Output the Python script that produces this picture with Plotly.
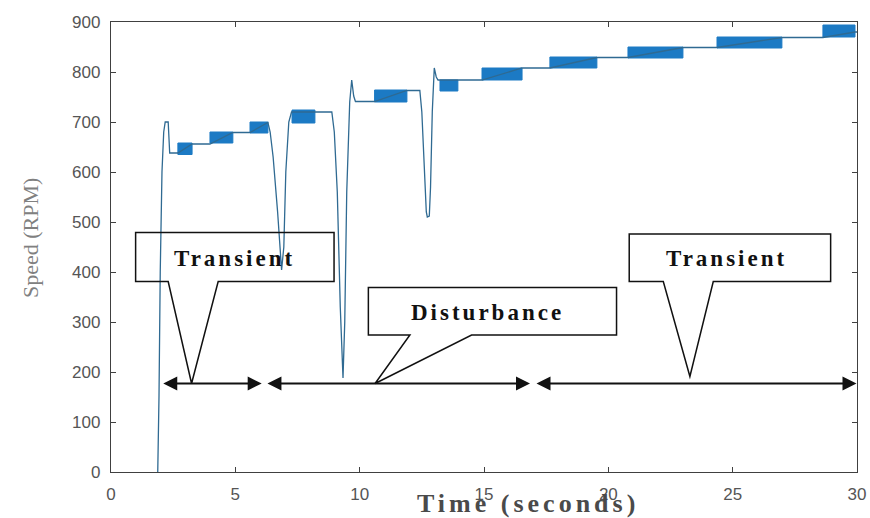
import plotly.graph_objects as go

# speed trace (seconds, rpm)
time_s = [1.88, 1.93, 1.98, 2.05, 2.12, 2.18, 2.30, 2.36, 2.69, 3.26, 3.98, 4.90, 5.59, 6.31,
          6.40, 6.52, 6.70, 6.86, 6.95, 7.03, 7.15, 7.26, 8.88, 8.98, 9.10, 9.22, 9.33, 9.40,
          9.48, 9.60, 9.68, 9.76, 9.83, 10.60, 11.90, 12.42, 12.50, 12.60, 12.68, 12.72, 12.80,
          12.85, 12.92, 13.00, 13.08, 13.15, 13.95, 14.92, 16.53, 17.65, 19.54, 20.79, 23.00,
          24.37, 26.98, 28.63, 29.92, 30.00]
speed_rpm = [0, 150, 400, 600, 680, 700, 700, 638, 638, 656, 656, 679, 679, 699,
             680, 630, 520, 404, 450, 600, 700, 720, 720, 680, 560, 330, 188, 300,
             560, 740, 784, 752, 741, 741, 763, 763, 720, 600, 520, 510, 512,
             570, 720, 808, 790, 784, 784, 784, 808, 808, 829, 829, 849,
             849, 869, 869, 880, 880]

# bands where the speed chatters between two levels
band_start = [2.69, 3.98, 5.59, 7.28, 10.60, 13.23, 14.92, 17.65, 20.79, 24.37, 28.63]
band_end = [3.26, 4.90, 6.31, 8.20, 11.90, 13.95, 16.53, 19.54, 23.00, 26.98, 29.92]
band_low = [635, 658, 678, 698, 740, 762, 784, 808, 828, 848, 870]
band_high = [658, 680, 700, 724, 764, 784, 808, 830, 850, 870, 894]

# callouts
callout_text = ["Transient", "Disturbance", "Transient"]
callout_x0 = [0.99, 10.35, 20.84]
callout_x1 = [8.97, 20.33, 28.94]
callout_top = [479, 369, 476]
callout_bottom = [381, 274, 381]
notch_left = [2.30, 12.02, 22.21]
notch_right = [4.31, 14.50, 24.22]
tip_x = [3.24, 10.62, 23.28]
tip_y = [177, 177, 191]
label_x = [4.95, 15.15, 24.75]
label_y = [428, 319, 427]

# double headed arrows
arrow_from = [2.04, 6.23, 17.05]
arrow_to = [6.06, 16.85, 29.98]
arrow_level = 177

AXIS_COLOR = "#404040"

fig = go.Figure()

bx, by = [], []
for x0, x1, lo, hi in zip(band_start, band_end, band_low, band_high):
    bx += [x0, x1, x1, x0, x0, None]
    by += [lo, lo, hi, hi, lo, None]
fig.add_trace(go.Scatter(x=bx, y=by, mode="lines", fill="toself", fillcolor="#1c7ac4",
                         line=dict(color="#1c7ac4", width=1), showlegend=False, hoverinfo="skip"))

fig.add_trace(go.Scatter(x=time_s, y=speed_rpm, mode="lines",
                         line=dict(color="#2f6a92", width=1.3), showlegend=False))

shapes = []
for i in range(len(callout_text)):
    path = (f"M {notch_right[i]},{callout_bottom[i]} L {callout_x1[i]},{callout_bottom[i]} "
            f"L {callout_x1[i]},{callout_top[i]} L {callout_x0[i]},{callout_top[i]} "
            f"L {callout_x0[i]},{callout_bottom[i]} L {notch_left[i]},{callout_bottom[i]} "
            f"L {tip_x[i]},{tip_y[i]} Z")
    shapes.append(dict(type="path", path=path, xref="x", yref="y",
                       line=dict(color="#111111", width=1.5)))

annotations = []
for i, txt in enumerate(callout_text):
    annotations.append(dict(x=label_x[i], y=label_y[i], xref="x", yref="y", showarrow=False,
                            text=f'<span style="letter-spacing:3px">{txt}</span>',
                            font=dict(family="Liberation Serif", size=23, color="#111111",
                                      weight="bold")))

for a, b in zip(arrow_from, arrow_to):
    annotations.append(dict(x=b, y=arrow_level, ax=a, ay=arrow_level, xref="x", yref="y",
                            axref="x", ayref="y", text="", showarrow=True, arrowside="end+start",
                            arrowhead=2, arrowsize=1.4, arrowwidth=2, arrowcolor="#111111"))

annotations.append(dict(x=16.75, y=-0.071, xref="x", yref="paper", showarrow=False,
                        text='<span style="letter-spacing:4px">Time (seconds)</span>',
                        font=dict(family="Liberation Serif", size=26, color="#4a4a4a",
                                  weight="bold"),
                        xanchor="center", yanchor="middle"))
annotations.append(dict(x=-0.1086, y=0.52, xref="paper", yref="paper", showarrow=False,
                        text="Speed (RPM)", textangle=-90,
                        font=dict(family="Liberation Serif", size=22, color="#808080"),
                        xanchor="center", yanchor="middle"))

axis_style = dict(showline=True, mirror="ticks", linecolor=AXIS_COLOR, linewidth=1.3,
                  ticks="inside", ticklen=5, tickcolor=AXIS_COLOR, tickwidth=1.2,
                  showgrid=False, zeroline=False, automargin=False,
                  tickfont=dict(family="Liberation Sans", size=17, color="#555555"))

fig.update_xaxes(range=[0, 30], dtick=5, tick0=0, ticklabelstandoff=6, **axis_style)
fig.update_yaxes(range=[0, 900], dtick=100, tick0=0, ticklabelstandoff=6, **axis_style)

fig.update_layout(width=870, height=518, margin=dict(l=111, r=13, t=22, b=46),
                  paper_bgcolor="white", plot_bgcolor="white",
                  shapes=shapes, annotations=annotations)

# drop the browser's default body margin so the figure fills the window exactly
fig.write_html("out.html", config={"displayModeBar": False},
               post_script="document.body.style.margin='0';")
